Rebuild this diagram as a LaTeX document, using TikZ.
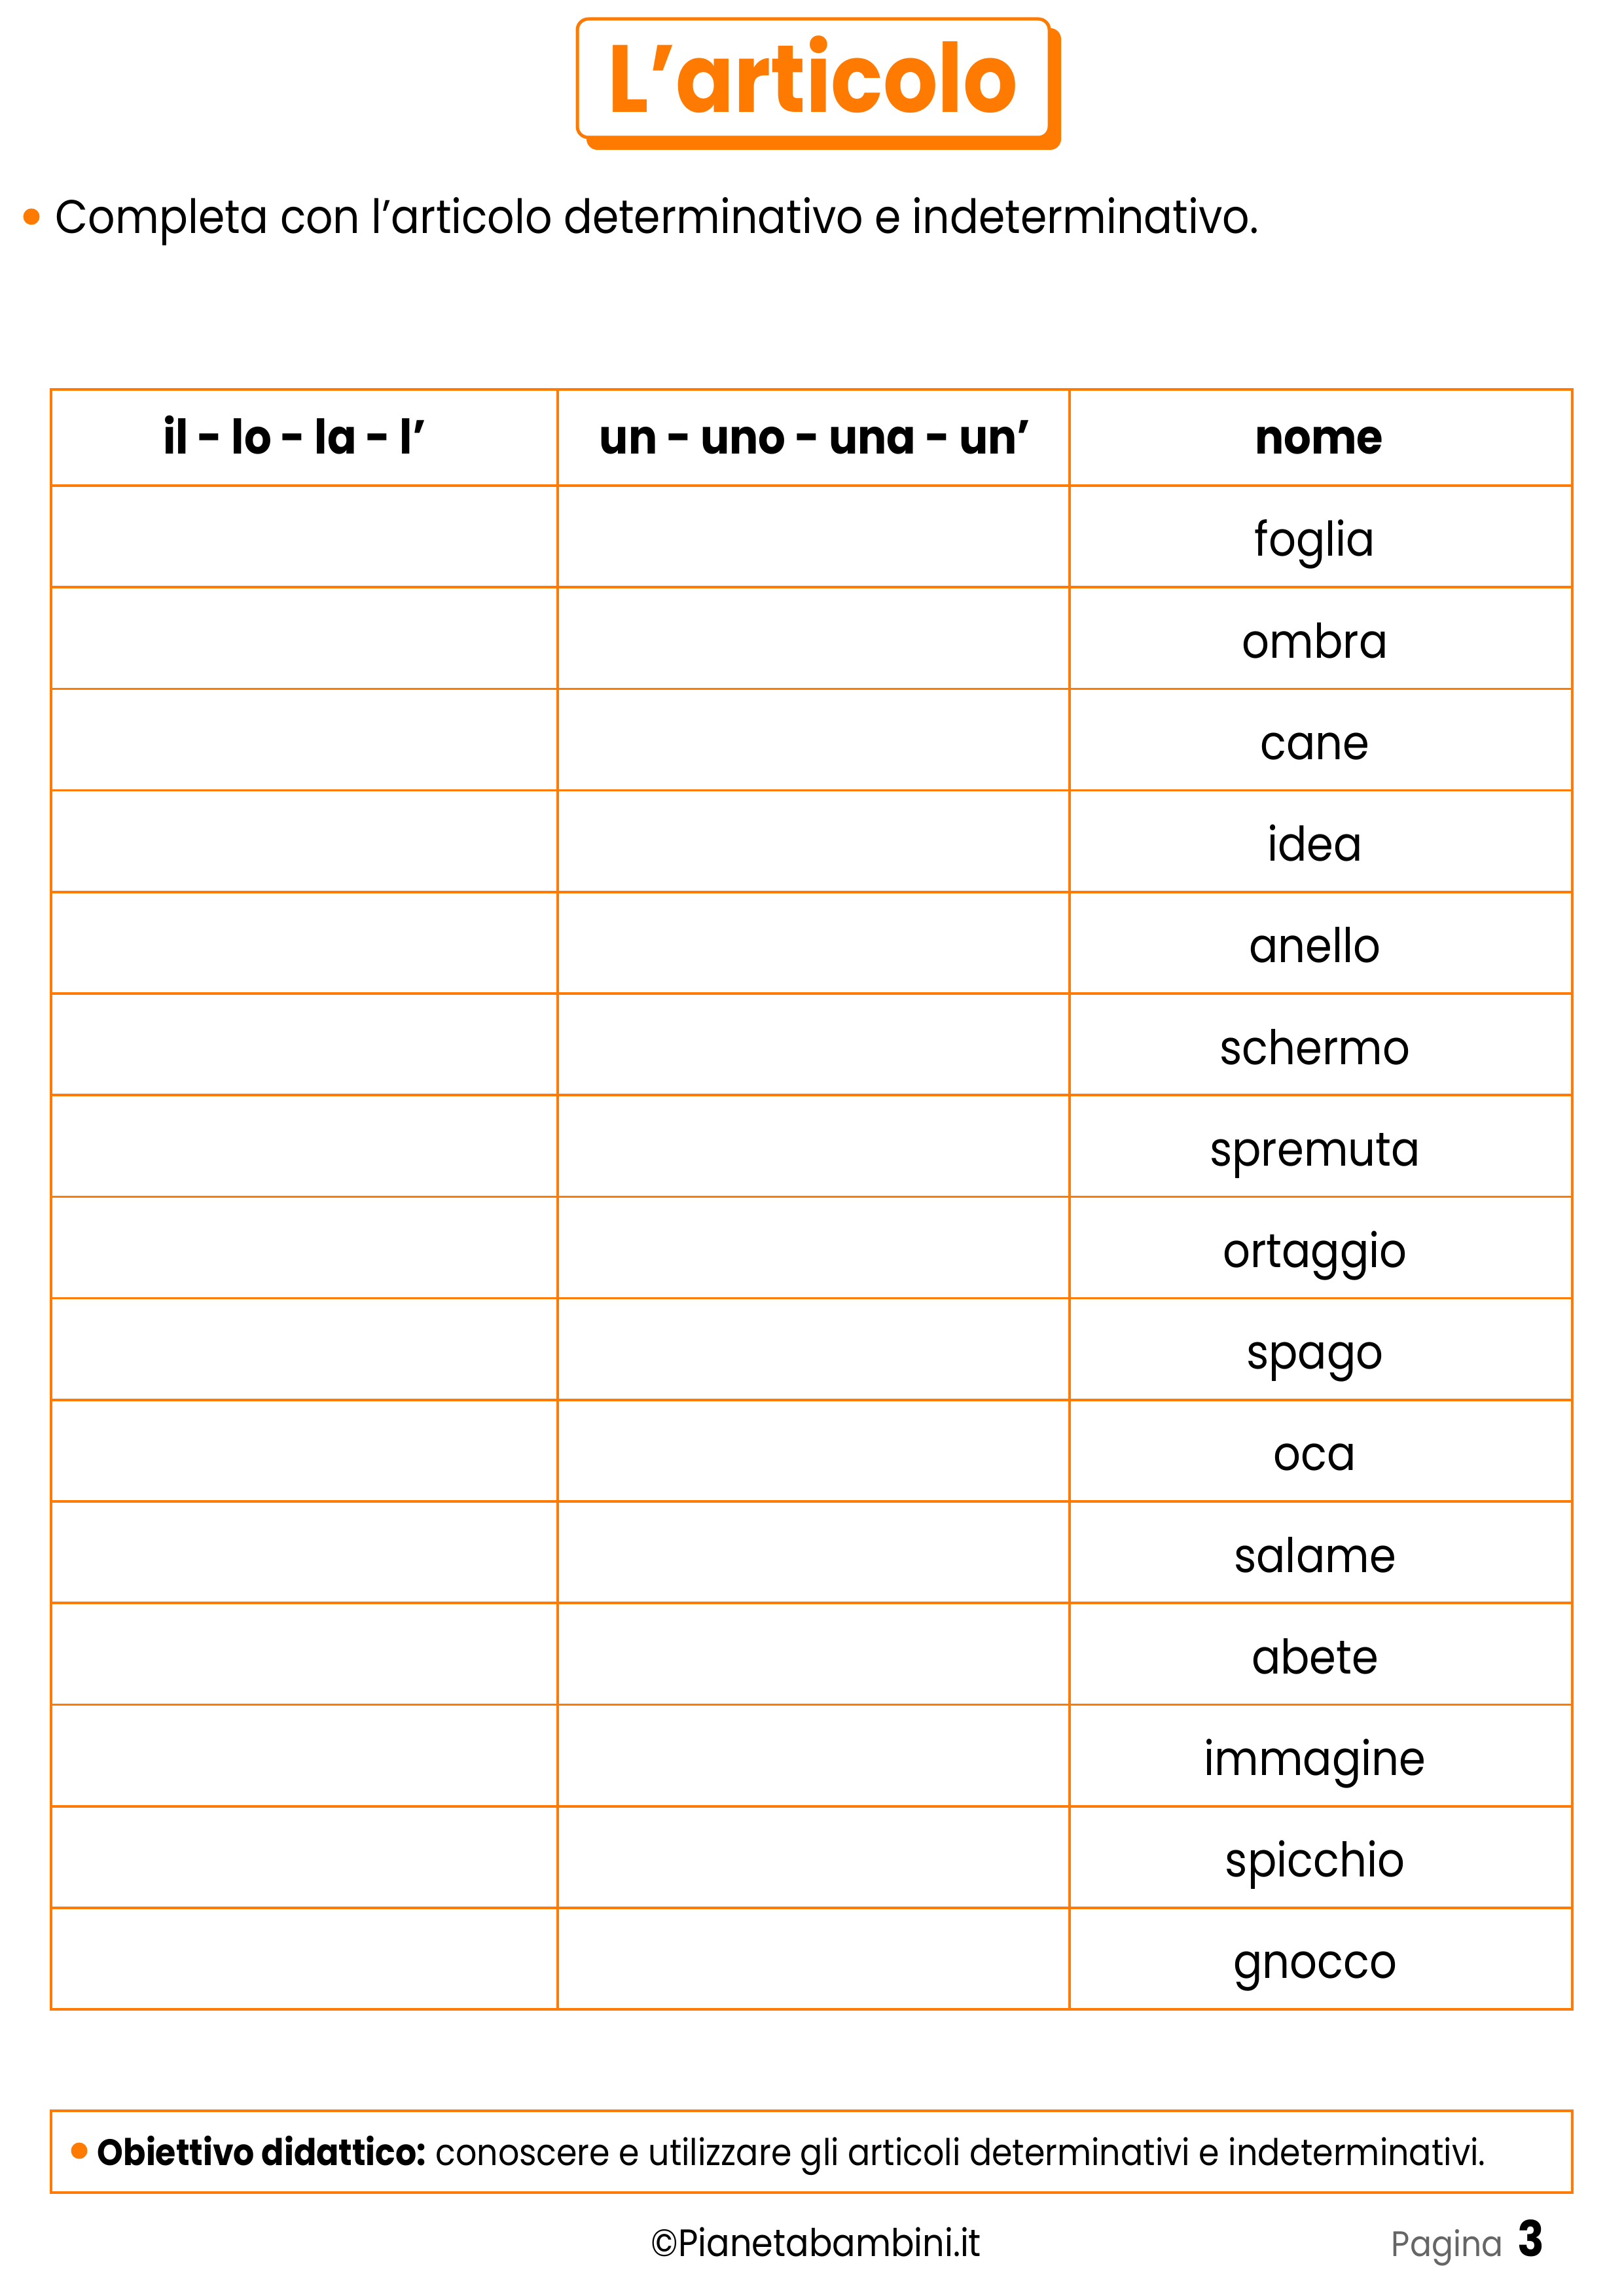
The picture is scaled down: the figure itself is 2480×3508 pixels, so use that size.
\documentclass[tikz,border=0pt]{standalone}
\usepackage{fontspec}
\setmainfont{Poppins}[FakeStretch=0.9]
\usepackage{xcolor}
\usepackage{tikz}
\usetikzlibrary{positioning}

\definecolor{arancio}{RGB}{255,122,0}

\begin{document}
\begin{tikzpicture}[x=0.24pt,y=-0.24pt,
  riga/.style={draw=arancio,line width=0.9pt},
  punto/.style={circle,fill=arancio,inner sep=0pt,minimum size=6pt},
  parola/.style={font=\fontsize{17.5pt}{20pt}\selectfont,anchor=base},
  testa/.style={font=\fontsize{17.5pt}{20pt}\selectfont\bfseries,anchor=base}]
\def \R {155.2}
\useasboundingbox (0,0) rectangle (2480,3508);

% title
\fill[arancio,rounded corners=4] (896,43) rectangle (1621,229);
\draw[arancio,line width=1.2pt,fill=white,rounded corners=4] (882,29) rectangle (1603,210);
\node[anchor=base,text=arancio,font=\fontsize{35pt}{38pt}\selectfont\bfseries] (titolo) at (1242,172) {L’articolo};

% instruction
\node[punto] (p1) at (48,331) {};
\node[anchor=base west,inner sep=0pt,font=\fontsize{17.3pt}{20pt}\selectfont] (consegna) at (84,357)
{Completa con l’articolo determinativo e indeterminativo.};

% table
\draw[riga] (78,595) rectangle (2402,3070);
\draw[riga] (78,742) -- (2402,742);
\foreach \i in {1,...,14}
{
\draw[riga] (78,{742+\i*\R}) -- (2402,{742+\i*\R});
}
\draw[riga] (852,595) -- (852,3070);
\draw[riga] (1634,595) -- (1634,3070);

\node[testa] (h1) at (450,694) {il - lo - la - l’};
\node[testa] (h2) at (1245,694) {un - uno - una - un’};
\node[testa] (h3) at (2015,694) {nome};

\foreach \w [count=\i] in {foglia,ombra,cane,idea,anello,schermo,spremuta,ortaggio,spago,oca,salame,abete,immagine,spicchio,gnocco}
{
\node[parola] (w\i) at (2009,{742+(\i-1)*\R+108}) {\w};
}

% objective
\draw[riga] (78,3225) rectangle (2402,3350);
\node[punto] (p2) at (121,3286) {};
\node[anchor=base west,inner sep=0pt,font=\fontsize{13.5pt}{16pt}\selectfont] (obiettivo) at (148,3308)
{\bfseries Obiettivo didattico: \mdseries conoscere e utilizzare gli articoli determinativi e indeterminativi.};

% footer
\node[anchor=base,font=\fontsize{14pt}{17pt}\selectfont] (sito) at (1247,3447) {©Pianetabambini.it};
\node[anchor=base east,inner sep=0pt,text=black!60,font=\fontsize{13pt}{16pt}\selectfont] (pagina) at (2297,3447) {Pagina};
\node[anchor=base west,inner sep=0pt,font=\fontsize{18pt}{20pt}\selectfont\bfseries] (num) at (2318,3447) {3};
\end{tikzpicture}
\end{document}
